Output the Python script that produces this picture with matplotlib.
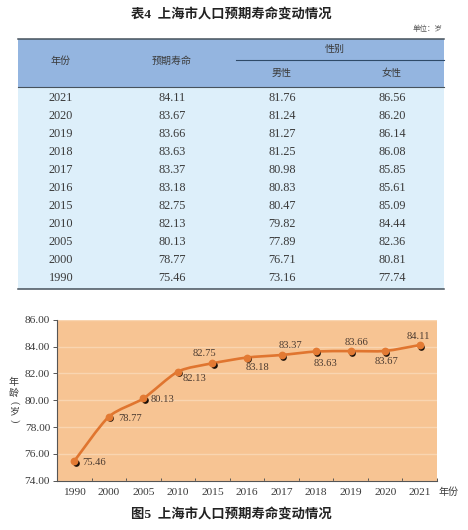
import matplotlib
matplotlib.use('Agg')
import matplotlib.pyplot as plt
import numpy as np
from matplotlib.patches import Rectangle, PathPatch
from matplotlib.path import Path
from matplotlib.transforms import offset_copy

plt.rcParams['font.family'] = ['Liberation Serif', 'Noto Sans CJK SC']

# table data
table_years = ['2021', '2020', '2019', '2018', '2017', '2016', '2015', '2010', '2005', '2000', '1990']
table_total = ['84.11', '83.67', '83.66', '83.63', '83.37', '83.18', '82.75', '82.13', '80.13', '78.77', '75.46']
table_male = ['81.76', '81.24', '81.27', '81.25', '80.98', '80.83', '80.47', '79.82', '77.89', '76.71', '73.16']
table_female = ['86.56', '86.20', '86.14', '86.08', '85.85', '85.61', '85.09', '84.44', '82.36', '80.81', '77.74']

# chart data
years = ['1990', '2000', '2005', '2010', '2015', '2016', '2017', '2018', '2019', '2020', '2021']
life = [75.46, 78.77, 80.13, 82.13, 82.75, 83.18, 83.37, 83.63, 83.66, 83.67, 84.11]
# label offset from the point, in pixels (x right, y up)
label_dx = [20, 21, 19, 17, -8, 11, 9, 9, 6, 1, -1]
label_dy = [-1, -2, -1, -7, 10, -10, 9, -12, 9, -11, 9]

W, H = 468, 530
fig = plt.figure(figsize=(W / 100, H / 100), dpi=100, facecolor='white')

# table is drawn in pixel coordinates on a full figure axes
bg = fig.add_axes([0, 0, 1, 1])
bg.set_xlim(0, W)
bg.set_ylim(H, 0)
bg.axis('off')

line_c = '#47525c'
text_c = '#3a3a3a'
bg.add_patch(Rectangle((18, 38.5), 425.5, 48.5, fc='#94b5e0', ec='none'))
bg.add_patch(Rectangle((18, 87), 425.5, 202, fc='#ddeffa', ec='none'))
bg.plot([18, 443.5], [38.5, 38.5], color=line_c, lw=1.1)
bg.plot([18, 443.5], [87, 87], color=line_c, lw=0.8)
bg.plot([18, 443.5], [289.3, 289.3], color=line_c, lw=1.1)
bg.plot([236, 443.5], [59.5, 59.5], color='#2f4a68', lw=0.8)

bg.text(231, 15, '表4  上海市人口预期寿命变动情况', ha='center', va='center', fontsize=9.6,
        fontweight='bold', color='#222222')
bg.text(443, 28.5, '单位：岁', ha='right', va='center', fontsize=5.4, color='#555555')

cols = [61, 172, 282, 392]
bg.text(cols[0], 61, '年份', ha='center', va='center', fontsize=7.2, color=text_c)
bg.text(cols[1], 61, '预期寿命', ha='center', va='center', fontsize=7.2, color=text_c)
bg.text(335, 49.5, '性别', ha='center', va='center', fontsize=7.2, color=text_c)
bg.text(cols[2], 73, '男性', ha='center', va='center', fontsize=7.2, color=text_c)
bg.text(cols[3], 73, '女性', ha='center', va='center', fontsize=7.2, color=text_c)

for i in range(len(table_years)):
    y = 98.3 + i * 18
    row = [table_years[i], table_total[i], table_male[i], table_female[i]]
    for x, s in zip(cols, row):
        bg.text(x, y, s, ha='center', va='center', fontsize=8.8, color=text_c)

bg.text(231, 515, '图5  上海市人口预期寿命变动情况', ha='center', va='center', fontsize=9.6,
        fontweight='bold', color='#222222')
bg.text(449, 492.5, '年份', ha='center', va='center', fontsize=7.2, color=text_c)

# y axis title stacked one sign at a time, brackets turned on their side
bg.text(14, 382, '年', ha='center', va='center', fontsize=7.2, color=text_c)
bg.text(14, 393, '龄', ha='center', va='center', fontsize=7.2, color=text_c)
bg.text(14, 403, '(', ha='center', va='center', fontsize=7.2, color=text_c, rotation=-90)
bg.text(14, 412, '岁', ha='center', va='center', fontsize=7.2, color=text_c)
bg.text(14, 421, ')', ha='center', va='center', fontsize=7.2, color=text_c, rotation=-90)

# line chart
ax = fig.add_axes([57 / W, 1 - 480.7 / H, 380 / W, 161 / H], facecolor='#f7c493')
ax.set_xlim(-0.5, 10.5)
ax.set_ylim(74, 86)
ax.set_yticks(np.arange(74, 87, 2))
ax.set_yticklabels(['%.2f' % v for v in np.arange(74, 87, 2)], fontsize=8.2, color=text_c)
ax.yaxis.grid(True, color='#f9d5b1', lw=1)
ax.set_axisbelow(True)
for s in ['top', 'right']:
    ax.spines[s].set_visible(False)
for s in ['left', 'bottom']:
    ax.spines[s].set_color('#555555')
    ax.spines[s].set_linewidth(0.8)

ax.set_xticks(np.arange(-0.5, 11, 1))
ax.set_xticklabels([])
ax.tick_params(axis='x', direction='in', length=2, width=0.7, color='#555555')
ax.tick_params(axis='y', direction='out', length=3, width=0.7, color='#555555', pad=2)
for i, s in enumerate(years):
    ax.annotate(s, (i, 0), xycoords=('data', 'axes fraction'), xytext=(0, -8.2),
                textcoords='offset points', ha='center', va='center', fontsize=8.2, color=text_c)

# smooth line through the values, bezier control points from neighbours
xs = np.arange(len(life))
verts = [(xs[0], life[0])]
codes = [Path.MOVETO]
for i in range(len(life) - 1):
    a = max(i - 1, 0)
    b = min(i + 2, len(life) - 1)
    verts.append((xs[i] + (xs[i + 1] - xs[a]) / 8, life[i] + (life[i + 1] - life[a]) / 8))
    verts.append((xs[i + 1] - (xs[b] - xs[i]) / 8, life[i + 1] - (life[b] - life[i]) / 8))
    verts.append((xs[i + 1], life[i + 1]))
    codes += [Path.CURVE4, Path.CURVE4, Path.CURVE4]
ax.add_patch(PathPatch(Path(verts, codes), fc='none', ec='#e0752f', lw=1.9, zorder=3))

# black marker shadow sits slightly down and right
shadow = offset_copy(ax.transData, fig=fig, x=1.3, y=-1.6, units='dots')
ax.plot(xs, life, 'o', ms=4.8, color='#1a0f08', mec='none', transform=shadow, zorder=4)
ax.plot(xs, life, 'o', ms=5.6, color='#e37a33', mec='none', zorder=5)

for i, v in enumerate(life):
    ax.annotate('%.2f' % v, (i, v), xytext=(label_dx[i] * 0.72, label_dy[i] * 0.72),
                textcoords='offset points', ha='center', va='center', fontsize=7.6,
                color='#4a3a30', zorder=6)

fig.savefig('out.png', dpi=100)
